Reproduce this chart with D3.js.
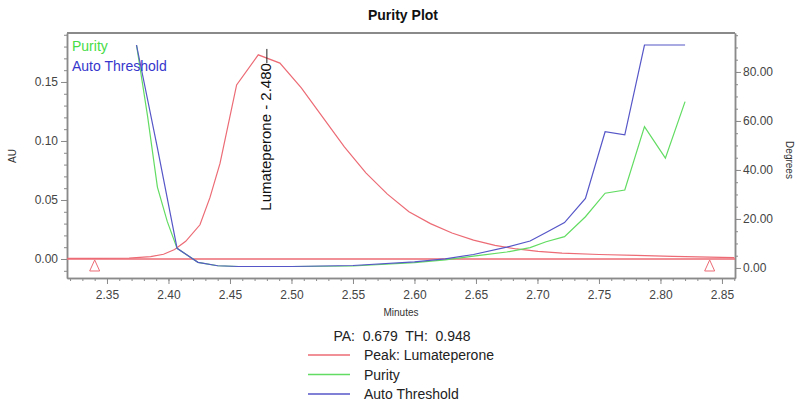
<html>
	<head>
		<title>Purity Plot</title>
		<script type="text/javascript" src="https://d3js.org/d3.v7.min.js"></script>
		<style>
			body { margin: 0; background: #fff; }
			text { font-family: "Liberation Sans", Arial, sans-serif; }
		</style>
	</head>
	<body>
		<div></div>
		<script>
			//Peak trace (AU, left axis)
			var peakMinutes = [2.318, 2.340, 2.368, 2.3855, 2.396, 2.405, 2.414, 2.4256, 2.4337, 2.4419, 2.4554, 2.473, 2.4906, 2.508, 2.5255, 2.543, 2.5605, 2.578, 2.5955, 2.613, 2.6305, 2.648, 2.6655, 2.683, 2.7005, 2.72, 2.75, 2.78, 2.81, 2.84, 2.86];
			var peakAU = [0.0005, 0.0005, 0.0008, 0.002, 0.004, 0.008, 0.015, 0.029, 0.052, 0.081, 0.1475, 0.173, 0.166, 0.145, 0.12, 0.095, 0.073, 0.055, 0.040, 0.030, 0.022, 0.016, 0.0115, 0.0085, 0.0065, 0.005, 0.0038, 0.003, 0.0022, 0.0016, 0.0012];

			//Purity angle (degrees, right axis)
			var purityMinutes = [2.374, 2.383, 2.391, 2.399, 2.407, 2.424, 2.440, 2.457, 2.50, 2.55, 2.60, 2.625, 2.648, 2.675, 2.694, 2.707, 2.722, 2.739, 2.755, 2.771, 2.787, 2.804, 2.820];
			var purityDeg = [91, 62, 33, 19, 8, 2.3, 0.9, 0.6, 0.6, 0.8, 2.2, 3.3, 4.8, 6.5, 8.3, 10.7, 12.8, 20.9, 30.5, 31.8, 57.7, 44.8, 67.9];

			//Auto threshold angle (degrees, right axis)
			var thresholdMinutes = [2.374, 2.391, 2.407, 2.424, 2.440, 2.457, 2.50, 2.55, 2.60, 2.625, 2.648, 2.675, 2.694, 2.707, 2.722, 2.739, 2.755, 2.771, 2.787, 2.804, 2.820];
			var thresholdDeg = [91, 49, 8, 2.3, 0.9, 0.6, 0.6, 1.0, 2.5, 3.7, 5.5, 8.5, 11.0, 14.5, 18.5, 28.4, 55.6, 54.3, 91, 91, 91];

			//Integration start / end marks
			var markMinutes = [2.34, 2.84];

			//Tick labels
			var minuteTicks = [2.35, 2.40, 2.45, 2.50, 2.55, 2.60, 2.65, 2.70, 2.75, 2.80, 2.85];
			var auTicks = [0.00, 0.05, 0.10, 0.15];
			var degTicks = [0, 20, 40, 60, 80];

			var peakName = "Lumateperone";
			var peakRT = 2.480;
			var paValue = "0.679";
			var thValue = "0.948";

			var red = "#ec6b75", green = "#62dc62", blue = "#5656c8";

			//Canvas dimensions
			var canvasWidth = 795;
			var canvasHeight = 408;

			//Plot frame
			var plotLeft = 67, plotRight = 735, plotTop = 33, plotBottom = 278;

			var canvas = d3.select("div").append("svg")
							.attr("width", canvasWidth)
							.attr("height", canvasHeight);

			//Scales
			var x = d3.scaleLinear().domain([2.3175, 2.8606]).range([plotLeft, plotRight]);
			var yAU = d3.scaleLinear().domain([-0.0161, 0.1915]).range([plotBottom, plotTop]);
			var yDeg = d3.scaleLinear().domain([-4.1, 95.9]).range([plotBottom, plotTop]);

			//Title
			canvas.append("text")
				.text("Purity Plot")
				.attr("x", 403).attr("y", 20)
				.attr("text-anchor", "middle")
				.attr("font-size", 14).attr("font-weight", "bold")
				.attr("fill", "#111");

			//Clip path for the traces
			canvas.append("clipPath").attr("id", "plotclip")
				.append("rect").attr("x", plotLeft).attr("y", plotTop)
				.attr("width", plotRight - plotLeft).attr("height", plotBottom - plotTop);

			//Axes
			function styleAxis(g) {
				g.attr("font-size", 12).attr("font-family", "Liberation Sans, Arial, sans-serif");
				g.selectAll("path").attr("stroke", "#8a8a8a").attr("stroke-width", 1.5);
				g.selectAll("line").attr("stroke", "#8a8a8a");
				g.selectAll("text").attr("fill", "#444");
			}

			var xMinor = d3.range(2.32, 2.861, 0.01);
			var auMinor = d3.range(-0.01, 0.191, 0.01);
			var degMinor = d3.range(0, 95.1, 5);

			canvas.append("g").attr("transform", "translate(0," + plotBottom + ")")
				.call(d3.axisBottom(x).tickValues(xMinor).tickSize(3).tickFormat("").tickSizeOuter(0))
				.call(styleAxis);
			canvas.append("g").attr("transform", "translate(0," + plotBottom + ")")
				.call(d3.axisBottom(x).tickValues(minuteTicks).tickSize(6).tickPadding(6).tickFormat(d3.format(".2f")).tickSizeOuter(0))
				.call(styleAxis);

			canvas.append("g").attr("transform", "translate(" + plotLeft + ",0)")
				.call(d3.axisLeft(yAU).tickValues(auMinor).tickSize(3).tickFormat("").tickSizeOuter(0))
				.call(styleAxis);
			canvas.append("g").attr("transform", "translate(" + plotLeft + ",0)")
				.call(d3.axisLeft(yAU).tickValues(auTicks).tickSize(6).tickPadding(3).tickFormat(d3.format(".2f")).tickSizeOuter(0))
				.call(styleAxis);

			canvas.append("g").attr("transform", "translate(" + plotRight + ",0)")
				.call(d3.axisRight(yDeg).tickValues(degMinor).tickSize(3).tickFormat("").tickSizeOuter(0))
				.call(styleAxis);
			canvas.append("g").attr("transform", "translate(" + plotRight + ",0)")
				.call(d3.axisRight(yDeg).tickValues(degTicks).tickSize(6).tickPadding(2).tickFormat(d3.format(".2f")).tickSizeOuter(0))
				.call(styleAxis);

			//Top border of the frame
			canvas.append("line")
				.attr("x1", plotLeft).attr("x2", plotRight).attr("y1", plotTop).attr("y2", plotTop)
				.attr("stroke", "#8a8a8a").attr("stroke-width", 2);

			//Axis titles
			canvas.append("text").text("AU")
				.attr("transform", "translate(16,156) rotate(-90)")
				.attr("text-anchor", "middle").attr("font-size", 10).attr("fill", "#333");
			canvas.append("text").text("Degrees")
				.attr("transform", "translate(786,160) rotate(90)")
				.attr("text-anchor", "middle").attr("font-size", 10).attr("fill", "#333");
			canvas.append("text").text("Minutes")
				.attr("x", 401).attr("y", 316)
				.attr("text-anchor", "middle").attr("font-size", 10).attr("fill", "#333");

			var plot = canvas.append("g").attr("clip-path", "url(#plotclip)");

			//Baseline at zero
			plot.append("line")
				.attr("x1", plotLeft).attr("x2", plotRight)
				.attr("y1", yAU(0)).attr("y2", yAU(0))
				.attr("stroke", red).attr("stroke-width", 1.5);

			//Traces
			var peakLine = d3.line().x(function (d, i) { return x(peakMinutes[i]); }).y(function (d) { return yAU(d); });
			var purityLine = d3.line().x(function (d, i) { return x(purityMinutes[i]); }).y(function (d) { return yDeg(d); });
			var thresholdLine = d3.line().x(function (d, i) { return x(thresholdMinutes[i]); }).y(function (d) { return yDeg(d); });

			plot.append("path").attr("d", peakLine(peakAU))
				.attr("fill", "none").attr("stroke", red).attr("stroke-width", 1.2);
			plot.append("path").attr("d", purityLine(purityDeg))
				.attr("fill", "none").attr("stroke", green).attr("stroke-width", 1.2);
			plot.append("path").attr("d", thresholdLine(thresholdDeg))
				.attr("fill", "none").attr("stroke", blue).attr("stroke-width", 1.2);

			//Start / end triangles
			plot.selectAll("path.mark").data(markMinutes).enter()
				.append("path").attr("class", "mark")
				.attr("d", function (d) {
					var cx = x(d), y0 = yAU(0) + 1;
					return "M" + cx + "," + y0 + "L" + (cx + 5) + "," + (y0 + 11) + "L" + (cx - 5) + "," + (y0 + 11) + "Z";
				})
				.attr("fill", "none").attr("stroke", red).attr("stroke-width", 1);

			//Peak label
			canvas.append("line")
				.attr("x1", x(peakRT)).attr("x2", x(peakRT))
				.attr("y1", yAU(0.178)).attr("y2", yAU(0.166))
				.attr("stroke", "#222").attr("stroke-width", 1);
			canvas.append("text").text(peakName + " - " + peakRT.toFixed(3))
				.attr("transform", "translate(" + (x(peakRT) + 4) + "," + yAU(0.166) + ") rotate(-90)")
				.attr("text-anchor", "end").attr("font-size", 15).attr("fill", "#111");

			//Legend inside the plot
			canvas.append("text").text("Purity")
				.attr("x", 72).attr("y", 51).attr("font-size", 14).attr("fill", "#46dc46");
			canvas.append("text").text("Auto Threshold")
				.attr("x", 72).attr("y", 71).attr("font-size", 14).attr("fill", "#3636cc");

			//PA / TH values
			canvas.append("text").text("PA:  " + paValue + "  TH:  " + thValue)
				.attr("x", 402).attr("y", 341).attr("xml:space", "preserve")
				.attr("text-anchor", "middle").attr("font-size", 14).attr("fill", "#222");

			//Legend below
			var legendNames = ["Peak: " + peakName, "Purity", "Auto Threshold"];
			var legendColors = [red, green, blue];
			var legend = canvas.selectAll("g.legend").data(legendNames).enter()
				.append("g").attr("class", "legend")
				.attr("transform", function (d, i) { return "translate(0," + (355 + i * 19.5) + ")"; });
			legend.append("line")
				.attr("x1", 308).attr("x2", 350).attr("y1", 0).attr("y2", 0)
				.attr("stroke", function (d, i) { return legendColors[i]; }).attr("stroke-width", 1.5);
			legend.append("text").text(function (d) { return d; })
				.attr("x", 364).attr("y", 5).attr("font-size", 14).attr("fill", "#222");
		</script>
	</body>
</html>
